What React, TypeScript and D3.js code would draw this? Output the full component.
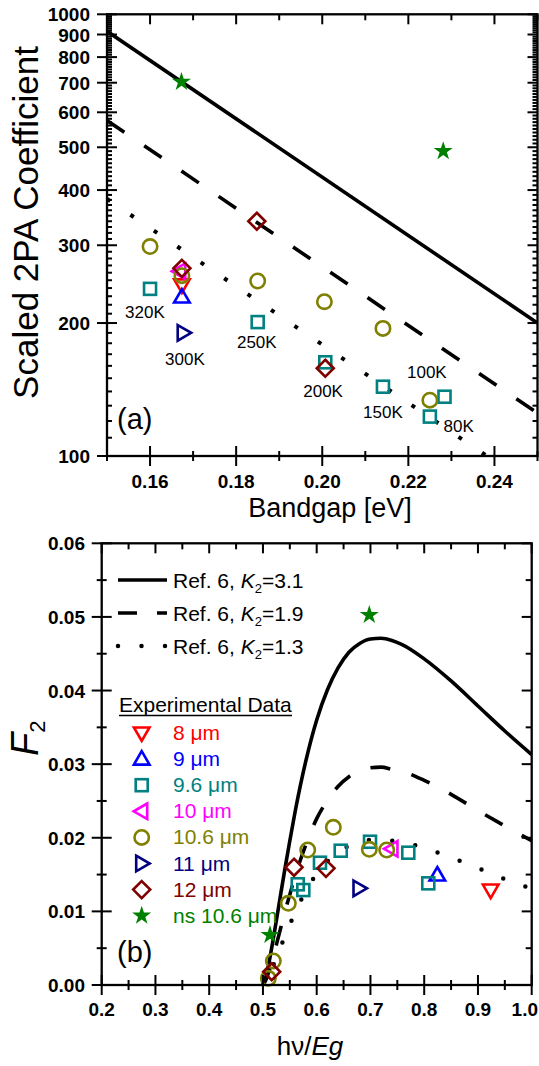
import React from 'react';
import * as d3 from 'd3';

const FONT = "'Liberation Sans', Arial, Helvetica, sans-serif";

// ---------- Panel (a): scaled 2PA coefficient vs bandgap ----------
const bandgapEnds = [0.15, 0.25];
const fitTopK31 = [915, 200];
const fitTopK19 = [575, 125];
const fitTopK13 = [382, 83.6];

const a8um = [{ x: 0.1674, y: 244 }];
const a9um = [{ x: 0.1674, y: 229 }];
const a96um = [
  { x: 0.16, y: 239 },
  { x: 0.185, y: 201 },
  { x: 0.2007, y: 163 },
  { x: 0.2141, y: 143.5 },
  { x: 0.225, y: 122.8 },
  { x: 0.2284, y: 136.2 },
];
const a10um = [{ x: 0.1669, y: 262 }];
const a106um = [
  { x: 0.16, y: 298 },
  { x: 0.1674, y: 256 },
  { x: 0.185, y: 249 },
  { x: 0.2005, y: 223.5 },
  { x: 0.2141, y: 194.5 },
  { x: 0.225, y: 133.8 },
];
const a11um = [{ x: 0.1677, y: 190 }];
const a12um = [
  { x: 0.1674, y: 266 },
  { x: 0.1848, y: 340 },
  { x: 0.2007, y: 158 },
];
const aNs = [
  { x: 0.1673, y: 703 },
  { x: 0.2281, y: 490 },
];
const tempLabels = [
  { t: '320K', x: 0.1588, y: 205 },
  { t: '300K', x: 0.1681, y: 160.7 },
  { t: '250K', x: 0.1848, y: 175.6 },
  { t: '200K', x: 0.2002, y: 136 },
  { t: '150K', x: 0.2141, y: 121.9 },
  { t: '100K', x: 0.2243, y: 150.1 },
  { t: '80K', x: 0.2317, y: 113.3 },
];
const aXTicks = [0.16, 0.18, 0.2, 0.22, 0.24];
const aYTicks = [100, 200, 300, 400, 500, 600, 700, 800, 900, 1000];

// ---------- Panel (b): F2 vs hv/Eg ----------
const hvEg = [0.5, 0.505, 0.51, 0.52, 0.53, 0.54, 0.55, 0.56, 0.58, 0.6, 0.62, 0.64, 0.66, 0.68, 0.7, 0.72, 0.74, 0.76, 0.8, 0.85, 0.9, 0.95, 1.0];
const f2K31 = [0, 0.001, 0.0026, 0.0066, 0.011, 0.0154, 0.0196, 0.0236, 0.0305, 0.036, 0.0401, 0.0431, 0.0452, 0.0464, 0.047, 0.0471, 0.0468, 0.0462, 0.0443, 0.0413, 0.0379, 0.0345, 0.0313];
const f2K19 = [0, 0.0006, 0.0016, 0.0041, 0.0069, 0.0097, 0.0123, 0.0148, 0.0191, 0.0226, 0.0251, 0.027, 0.0283, 0.0291, 0.0295, 0.0296, 0.0293, 0.029, 0.0278, 0.0259, 0.0237, 0.0216, 0.0196];
const f2K13 = [0, 0.0004, 0.0011, 0.0028, 0.0046, 0.0065, 0.0082, 0.0099, 0.0128, 0.0151, 0.0168, 0.0181, 0.0189, 0.0195, 0.0197, 0.0198, 0.0196, 0.0194, 0.0186, 0.0173, 0.0159, 0.0144, 0.0131];

const b8um = [{ x: 0.9237, y: 0.0129 }];
const b9um = [{ x: 0.8244, y: 0.01494 }];
const b96um = [
  { x: 0.5647, y: 0.01368 },
  { x: 0.5751, y: 0.0129 },
  { x: 0.6061, y: 0.01661 },
  { x: 0.6447, y: 0.01824 },
  { x: 0.6992, y: 0.01946 },
  { x: 0.7704, y: 0.01797 },
  { x: 0.8076, y: 0.01381 },
];
const b10um = [{ x: 0.74, y: 0.0185 }];
const b106um = [
  { x: 0.51, y: 0.0009 },
  { x: 0.5193, y: 0.00326 },
  { x: 0.5472, y: 0.0111 },
  { x: 0.5833, y: 0.01834 },
  { x: 0.6309, y: 0.02142 },
  { x: 0.6979, y: 0.01843 },
  { x: 0.7302, y: 0.01834 },
];
const b11um = [{ x: 0.6787, y: 0.01313 }];
const b12um = [
  { x: 0.5163, y: 0.0018 },
  { x: 0.5578, y: 0.01599 },
  { x: 0.6173, y: 0.01585 },
];
const bNs = [
  { x: 0.5131, y: 0.00679 },
  { x: 0.6979, y: 0.05026 },
];
const bXTicks = [0.2, 0.3, 0.4, 0.5, 0.6, 0.7, 0.8, 0.9, 1.0];
const bYTicks = [0, 0.01, 0.02, 0.03, 0.04, 0.05, 0.06];

const fitLabels = ['3.1', '1.9', '1.3'];

const series = [
  { label: '8 μm', color: '#FF0000', shape: 'down', a: a8um, b: b8um },
  { label: '9 μm', color: '#0000FF', shape: 'up', a: a9um, b: b9um },
  { label: '9.6 μm', color: '#008080', shape: 'square', a: a96um, b: b96um },
  { label: '10 μm', color: '#FF00FF', shape: 'left', a: a10um, b: b10um },
  { label: '10.6 μm', color: '#808000', shape: 'circle', a: a106um, b: b106um },
  { label: '11 μm', color: '#000080', shape: 'right', a: a11um, b: b11um },
  { label: '12 μm', color: '#800000', shape: 'diamond', a: a12um, b: b12um },
  { label: 'ns 10.6 μm', color: '#008000', shape: 'star', a: aNs, b: bNs },
];

const starPath = d3.symbol().type(d3.symbolStar).size(112)() as string;

function Marker({ shape, x, y, color }: { shape: string; x: number; y: number; color: string }) {
  const sw = 2.6;
  const common = { fill: 'none', stroke: color, strokeWidth: sw, strokeLinejoin: 'miter' as const };
  const t = `translate(${x},${y})`;
  switch (shape) {
    case 'circle':
      return <circle cx={x} cy={y} r={7.2} {...common} />;
    case 'square':
      return <rect x={x - 6} y={y - 6} width={12} height={12} {...common} />;
    case 'diamond':
      return <path transform={t} d="M0,-8.5L8.5,0L0,8.5L-8.5,0Z" {...common} />;
    case 'up':
      return <path transform={t} d="M0,-8L7.8,5.5L-7.8,5.5Z" {...common} />;
    case 'down':
      return <path transform={t} d="M-7.8,-5.5L7.8,-5.5L0,8Z" {...common} />;
    case 'right':
      return <path transform={t} d="M-5.5,-7.8L8,0L-5.5,7.8Z" {...common} />;
    case 'left':
      return <path transform={t} d="M5.5,-7.8L-8,0L5.5,7.8Z" {...common} />;
    case 'star':
      return <path transform={t} d={starPath} fill={color} stroke="none" />;
  }
  return null;
}

type Scale = (v: number) => number;

function hTicks(scale: Scale, vals: number[], y: number, up: number, down: number, key: string) {
  return vals.map((v, i) => (
    <line key={key + i} x1={scale(v)} x2={scale(v)} y1={y - up} y2={y + down} stroke="#000" strokeWidth={2} />
  ));
}
function vTicks(scale: Scale, vals: number[], x: number, left: number, right: number, key: string) {
  return vals.map((v, i) => (
    <line key={key + i} x1={x - left} x2={x + right} y1={scale(v)} y2={scale(v)} stroke="#000" strokeWidth={2} />
  ));
}

export default function App() {
  // panel a
  const aL = 107, aR = 537.5, aT = 14.3, aB = 456;
  const ax = d3.scaleLinear().domain([0.15, 0.25]).range([aL, aR]);
  const ay = d3.scaleLog().domain([100, 1000]).range([aB, aT]);
  // panel b
  const bL = 101.7, bR = 531.7, bT = 543.3, bB = 985;
  const bx = d3.scaleLinear().domain([0.2, 1.0]).range([bL, bR]);
  const by = d3.scaleLinear().domain([0, 0.06]).range([bB, bT]);

  const lineA = (vals: number[]) =>
    d3.line<number>().x((_, i) => ax(bandgapEnds[i])).y((d) => ay(d))(vals) as string;
  const lineB = (vals: number[]) =>
    d3
      .line<number>()
      .x((_, i) => bx(hvEg[i]))
      .y((d) => by(d))
      .curve(d3.curveMonotoneX)(vals) as string;

  const aMajorX = aXTicks;
  const aMinorX = d3.range(0.15, 0.2501, 0.02).map((v) => +v.toFixed(3));
  const aMinorY: number[] = [];
  for (let v = 110; v < 1000; v += 10) if (v % 100 !== 0) aMinorY.push(v);
  const bMinorX = d3.range(0.25, 1.0, 0.1).map((v) => +v.toFixed(3));
  const bMinorY = d3.range(0.005, 0.06, 0.01).map((v) => +v.toFixed(4));

  const fitStyles = [
    { dash: undefined, cap: 'butt' as const },
    { dash: '21,24', cap: 'butt' as const },
    { dash: '4,24.3', cap: 'butt' as const },
  ];
  const fitStylesB = [
    { dash: undefined, cap: 'butt' as const },
    { dash: '20,22', cap: 'butt' as const },
    { dash: '0,23.5', cap: 'round' as const },
  ];

  const legY0 = 733;
  const legStep = 26.1;

  return (
    <svg
      width={539}
      height={1066}
      style={{ position: 'absolute', left: 0, top: 0, background: '#fff' }}
      fontFamily={FONT}
    >
      <defs>
        <clipPath id="clipA">
          <rect x={aL} y={aT} width={aR - aL} height={aB - aT} />
        </clipPath>
        <clipPath id="clipB">
          <rect x={bL} y={bT} width={bR - bL} height={bB - bT} />
        </clipPath>
      </defs>
      <rect x={0} y={0} width={539} height={1066} fill="#fff" />

      {/* ================= Panel (a) ================= */}
      <g clipPath="url(#clipA)">
        {[fitTopK31, fitTopK19, fitTopK13].map((vals, i) => (
          <path
            key={'fa' + i}
            d={lineA(vals)}
            fill="none"
            stroke="#000"
            strokeWidth={i === 2 ? 4 : 3.6}
            strokeDasharray={fitStyles[i].dash}
            strokeLinecap={fitStyles[i].cap}
          />
        ))}
      </g>
      {series.map((s) =>
        s.a.map((p, j) => <Marker key={s.label + 'a' + j} shape={s.shape} x={ax(p.x)} y={ay(p.y)} color={s.color} />)
      )}
      {tempLabels.map((l) => (
        <text key={l.t} x={ax(l.x)} y={ay(l.y)} fontSize={17} textAnchor="middle" fill="#000">
          {l.t}
        </text>
      ))}
      <text x={117} y={429} fontSize={29}>
        (a)
      </text>

      {/* axes a */}
      <rect x={aL} y={aT} width={aR - aL} height={aB - aT} fill="none" stroke="#000" strokeWidth={2.3} />
      {hTicks(ax, aMajorX, aB, 10, 10, 'abM')}
      {hTicks(ax, aMinorX, aB, 5, 5, 'abm')}
      {hTicks(ax, aMajorX, aT, 0, 10, 'atM')}
      {hTicks(ax, aMinorX, aT, 0, 6, 'atm')}
      {vTicks(ay, aYTicks, aL, 10, 10, 'alM')}
      {vTicks(ay, aMinorY, aL, 0, 5, 'alm')}
      {vTicks(ay, aYTicks, aR, 10, 0, 'arM')}
      {vTicks(ay, aMinorY, aR, 5, 0, 'arm')}
      {aXTicks.map((v) => (
        <text key={'axl' + v} x={ax(v)} y={488} fontSize={19} fontWeight={700} textAnchor="middle">
          {v.toFixed(2)}
        </text>
      ))}
      {aYTicks.map((v) => (
        <text key={'ayl' + v} x={90} y={ay(v) + 7} fontSize={19} fontWeight={700} textAnchor="end">
          {v}
        </text>
      ))}
      <text x={330} y={517} fontSize={27} textAnchor="middle">
        Bandgap [eV]
      </text>
      <text transform="translate(38,222.5) rotate(-90)" fontSize={35} textAnchor="middle">
        Scaled 2PA Coefficient
      </text>

      {/* ================= Panel (b) ================= */}
      <g clipPath="url(#clipB)">
        {[f2K31, f2K19, f2K13].map((vals, i) => (
          <path
            key={'fb' + i}
            d={lineB(vals)}
            fill="none"
            stroke="#000"
            strokeWidth={i === 2 ? 4.5 : 3.6}
            strokeDasharray={fitStylesB[i].dash}
            strokeLinecap={fitStylesB[i].cap}
          />
        ))}
      </g>
      {series.map((s) =>
        s.b.map((p, j) => <Marker key={s.label + 'b' + j} shape={s.shape} x={bx(p.x)} y={by(p.y)} color={s.color} />)
      )}

      {/* legend: fits */}
      {fitLabels.map((k, i) => {
        const y = 580 + i * 33;
        return (
          <g key={'leg' + i}>
            <line
              x1={118}
              x2={167}
              y1={y}
              y2={y}
              stroke="#000"
              strokeWidth={i === 2 ? 4.5 : 3.6}
              strokeDasharray={i === 1 ? '19,20' : i === 2 ? '0,23.5' : undefined}
              strokeLinecap={i === 2 ? 'round' : 'butt'}
            />
            <text x={173} y={y + 8} fontSize={21}>
              Ref. 6,{' '}
              <tspan fontStyle="italic">K</tspan>
              <tspan fontSize={13} dy={5}>
                2
              </tspan>
              <tspan dy={-5}>={k}</tspan>
            </text>
          </g>
        );
      })}
      <text x={119} y={712} fontSize={21}>
        Experimental Data
      </text>
      <line x1={119} x2={292} y1={715.5} y2={715.5} stroke="#000" strokeWidth={1.5} />
      {series.map((s, i) => {
        const y = legY0 + i * legStep;
        return (
          <g key={'le' + s.label}>
            <Marker shape={s.shape} x={141.7} y={y} color={s.color} />
            <text x={173} y={y + 7} fontSize={21} fill={s.color}>
              {s.label}
            </text>
          </g>
        );
      })}
      <text x={117} y={962} fontSize={29}>
        (b)
      </text>

      {/* axes b */}
      <rect x={bL} y={bT} width={bR - bL} height={bB - bT} fill="none" stroke="#000" strokeWidth={2.3} />
      {hTicks(bx, bXTicks, bB, 10, 10, 'bbM')}
      {hTicks(bx, bMinorX, bB, 5, 5, 'bbm')}
      {hTicks(bx, bXTicks, bT, 0, 10, 'btM')}
      {hTicks(bx, bMinorX, bT, 0, 6, 'btm')}
      {vTicks(by, bYTicks, bL, 10, 10, 'blM')}
      {vTicks(by, bMinorY, bL, 5, 5, 'blm')}
      {vTicks(by, bYTicks, bR, 10, 0, 'brM')}
      {vTicks(by, bMinorY, bR, 6, 0, 'brm')}
      {bXTicks.map((v, i) => {
        const last = i === bXTicks.length - 1;
        return (
          <text
            key={'bxl' + v}
            x={last ? 538 : bx(v)}
            y={1016}
            fontSize={19}
            fontWeight={700}
            textAnchor={last ? 'end' : 'middle'}
          >
            {v.toFixed(1)}
          </text>
        );
      })}
      {bYTicks.map((v) => (
        <text key={'byl' + v} x={85} y={by(v) + 7} fontSize={19} fontWeight={700} textAnchor="end">
          {v.toFixed(2)}
        </text>
      ))}
      <text x={310} y={1055} fontSize={26} textAnchor="middle">
        hν/<tspan fontStyle="italic">Eg</tspan>
      </text>
      <text transform="translate(38,756) rotate(-90)" fontSize={38}>
        <tspan fontStyle="italic">F</tspan>
        <tspan fontSize={22} dy={7}>
          2
        </tspan>
      </text>
    </svg>
  );
}
